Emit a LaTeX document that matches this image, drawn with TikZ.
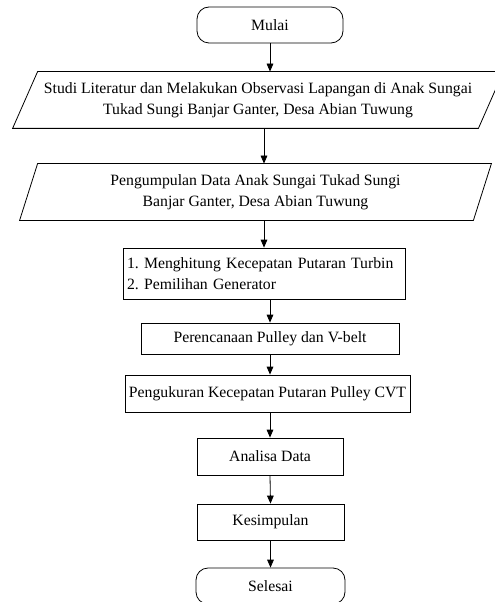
\documentclass[tikz,border=0pt]{standalone}
\usepackage{fontspec}
\setmainfont{Liberation Serif}
\usetikzlibrary{arrows.meta}

\tikzset{
  terminal/.style={draw, rounded corners=9pt, minimum width=109.5pt, minimum height=27pt},
  iotext/.style={align=center, inner sep=0pt, minimum height=42pt},
  procbox/.style={draw, align=center, inner sep=0pt},
}

\begin{document}
\begin{tikzpicture}[x=0.75pt,y=-0.75pt,line width=0.6pt,>={Triangle[length=6pt,width=5pt]},
  font=\fontsize{11.8}{15.75}\selectfont\frenchspacing]

\useasboundingbox (0,0) rectangle (495,602);

\node (mulai) [terminal] at (270,25) {Mulai};

\node (studi) [iotext, minimum width=348.75pt] at (258,100)
  {Studi Literatur dan Melakukan Observasi Lapangan di Anak Sungai\\Tukad Sungi Banjar Ganter, Desa Abian Tuwung};
\draw ([xshift=9.375pt]studi.north west) -- ([xshift=9.375pt]studi.north east)
  -- ([xshift=-9.375pt]studi.south east) -- ([xshift=-9.375pt]studi.south west) -- cycle;

\node (data) [iotext, minimum width=339.75pt] at (255.5,192)
  {Pengumpulan Data Anak Sungai Tukad Sungi\\Banjar Ganter, Desa Abian Tuwung};
\draw ([xshift=6.75pt]data.north west) -- ([xshift=6.75pt]data.north east)
  -- ([xshift=-6.75pt]data.south east) -- ([xshift=-6.75pt]data.south west) -- cycle;

\node (hitung) [draw, align=left, inner xsep=3pt, text width=205.5pt, minimum height=38.25pt] at (264,273.5)
  {1. Menghitung Kecepatan Putaran Turbin\\2. Pemilihan Generator};
\node (pulley) [procbox, minimum width=193.5pt, minimum height=23.25pt] at (270,338.5) {Perencanaan Pulley dan V-belt};
\node (ukur) [procbox, minimum width=213.75pt, minimum height=27.75pt] at (267.5,393.5) {Pengukuran Kecepatan Putaran Pulley CVT};
\node (analisa) [procbox, minimum width=109.5pt, minimum height=27.75pt] at (270,456.5) {Analisa Data};
\node (simpul) [procbox, minimum width=110.25pt, minimum height=27pt] at (270.5,522) {Kesimpulan};

\node (selesai) [terminal, minimum width=111.75pt] at (270.5,586) {Selesai};

\draw[->] (mulai.south) -- (mulai.south |- studi.north);
\draw[->] (studi.south -| hitung) -- (data.north -| hitung);
\draw[->] (data.south -| hitung) -- (hitung.north);
\draw[->] (hitung.south -| pulley) -- (pulley.north);
\draw[->] (pulley.south) -- (pulley.south |- ukur.north);
\draw[->] (ukur.south -| analisa) -- (analisa.north);
\draw[->] (analisa.south) -- (simpul.north);
\draw[->] (simpul.south) -- (simpul.south |- selesai.north);

\end{tikzpicture}
\end{document}
